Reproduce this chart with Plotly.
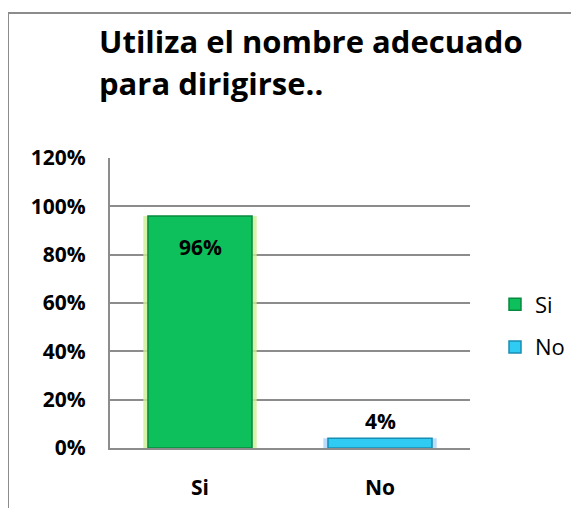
import plotly.graph_objects as go

categories = ["Si", "No"]
values = [0.96, 0.04]
labels = ["96%", "4%"]
y_ticks = [0, 0.2, 0.4, 0.6, 0.8, 1.0, 1.2]
y_tick_text = ["0%", "20%", "40%", "60%", "80%", "100%", "120%"]
title_lines = ["Utiliza el nombre adecuado", "para dirigirse.."]

fill_colors = ["#0ec05b", "#2fcbf3"]
line_colors = ["#07893f", "#1a8db3"]
glow_colors = ["rgba(205,240,150,0.8)", "rgba(160,205,255,0.7)"]
FONT = "Open Sans, sans-serif"

W, H = 579, 508
L, R, T, B = 102, 117, 150, 68
pw, ph = W - L - R, H - T - B

def px_x(p):
    return (p - L) / pw

def px_y(p):
    return (H - B - p) / ph

fig = go.Figure()

for i, cat in enumerate(categories):
    fig.add_trace(go.Bar(
        x=[cat], y=[values[i]], width=0.63,
        marker=dict(color=glow_colors[i], line=dict(width=0)),
        showlegend=False, hoverinfo="skip",
    ))

for i, cat in enumerate(categories):
    fig.add_trace(go.Bar(
        x=[cat], y=[values[i]], name=cat, width=0.578,
        marker=dict(color=fill_colors[i], line=dict(color=line_colors[i], width=1.5)),
        legendgroup=cat,
    ))

for i, cat in enumerate(categories):
    inside = values[i] > 0.2
    fig.add_annotation(
        x=cat, y=values[i], text=labels[i], showarrow=False,
        xref="x", yref="y",
        yanchor="top" if inside else "bottom",
        yshift=-15 if inside else 1,
        font=dict(family=FONT, size=21, color="black", weight="bold"),
    )

fig.update_layout(
    width=W, height=H,
    margin=dict(l=L, r=R, t=T, b=B, autoexpand=False),
    paper_bgcolor="white", plot_bgcolor="white",
    barmode="overlay",
    showlegend=True,
    legend=dict(x=px_x(487), y=px_y(318), xanchor="left", yanchor="middle",
                font=dict(family=FONT, size=22, color="black"),
                tracegroupgap=11, itemwidth=30, bgcolor="rgba(0,0,0,0)"),
    xaxis=dict(categoryorder="array", categoryarray=categories,
               showline=True, linecolor="#8c8c8c", linewidth=2,
               showgrid=False, ticks="", ticklabelstandoff=20, automargin=False,
               tickfont=dict(family=FONT, size=21, color="black", weight="bold")),
    yaxis=dict(range=[0, 1.2], tickvals=y_ticks, ticktext=y_tick_text,
               showline=True, linecolor="#8c8c8c", linewidth=2,
               showgrid=True, gridcolor="#8c8c8c", gridwidth=2,
               zeroline=False, ticks="", ticklabelstandoff=18, automargin=False,
               tickfont=dict(family=FONT, size=21, color="black", weight="bold")),
    font=dict(family=FONT),
)

for j, line in enumerate(title_lines):
    fig.add_annotation(
        text=line, xref="paper", yref="paper",
        x=px_x(89), y=px_y(33 + 42 * j),
        xanchor="left", yanchor="middle", align="left", showarrow=False,
        font=dict(family=FONT, size=31, color="black", weight="bold"),
    )

fig.add_shape(type="rect", xref="paper", yref="paper",
              x0=px_x(0), x1=px_x(700), y0=px_y(5), y1=px_y(700),
              line=dict(color="#8c8c8c", width=2), layer="below")

fig.write_html("out.html")
